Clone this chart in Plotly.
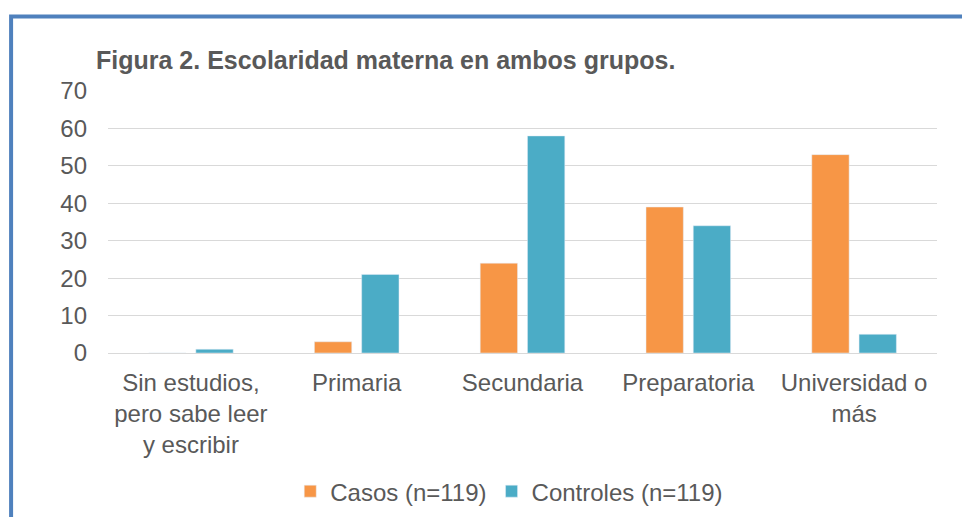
import plotly.graph_objects as go

categorias = ["Sin estudios,<br>pero sabe leer<br>y escribir", "Primaria", "Secundaria",
              "Preparatoria", "Universidad o<br>más"]
casos = [0, 3, 24, 39, 53]
controles = [1, 21, 58, 34, 5]
y_ticks = [0, 10, 20, 30, 40, 50, 60, 70]

gris = "#595959"
fuente = "Liberation Sans, Arial, sans-serif"

fig = go.Figure()
fig.add_trace(go.Bar(x=categorias, y=casos, name="Casos (n=119)", marker_color="#F79646"))
fig.add_trace(go.Bar(x=categorias, y=controles, name="Controles (n=119)", marker_color="#4BACC6"))

# marco azul del grafico (solo se ven los bordes izquierdo y superior)
fig.add_shape(type="rect", xref="paper", yref="paper",
              x0=-0.1169, x1=1.06, y0=-0.7, y1=1.284,
              line=dict(color="#4F81BD", width=4), layer="below")

fig.update_layout(
    width=970, height=517,
    margin=dict(l=100, r=41, t=83, b=171),
    paper_bgcolor="white", plot_bgcolor="white",
    barmode="group", bargap=0.43, bargroupgap=0.21,
    font=dict(family=fuente, size=24, color=gris),
    title=dict(text="<b>Figura 2. Escolaridad materna en ambos grupos.</b>",
               x=88/970, xanchor="left", y=1-52/517, yanchor="middle",
               font=dict(size=25, color=gris)),
    xaxis=dict(showgrid=False, ticks="", showline=True, linecolor="#d9d9d9", linewidth=1,
               tickfont=dict(size=24, color=gris), tickangle=0, ticklabelstandoff=8),
    yaxis=dict(range=[0, 70], tickvals=y_ticks, showgrid=True, gridcolor="#d9d9d9",
               zeroline=False, showline=False, ticklabelstandoff=20,
               tickfont=dict(size=24, color=gris)),
    legend=dict(orientation="h", x=0.484, xanchor="center", y=-0.523, yanchor="middle",
                font=dict(size=24, color=gris), itemwidth=30),
)

fig.write_html("out.html")
